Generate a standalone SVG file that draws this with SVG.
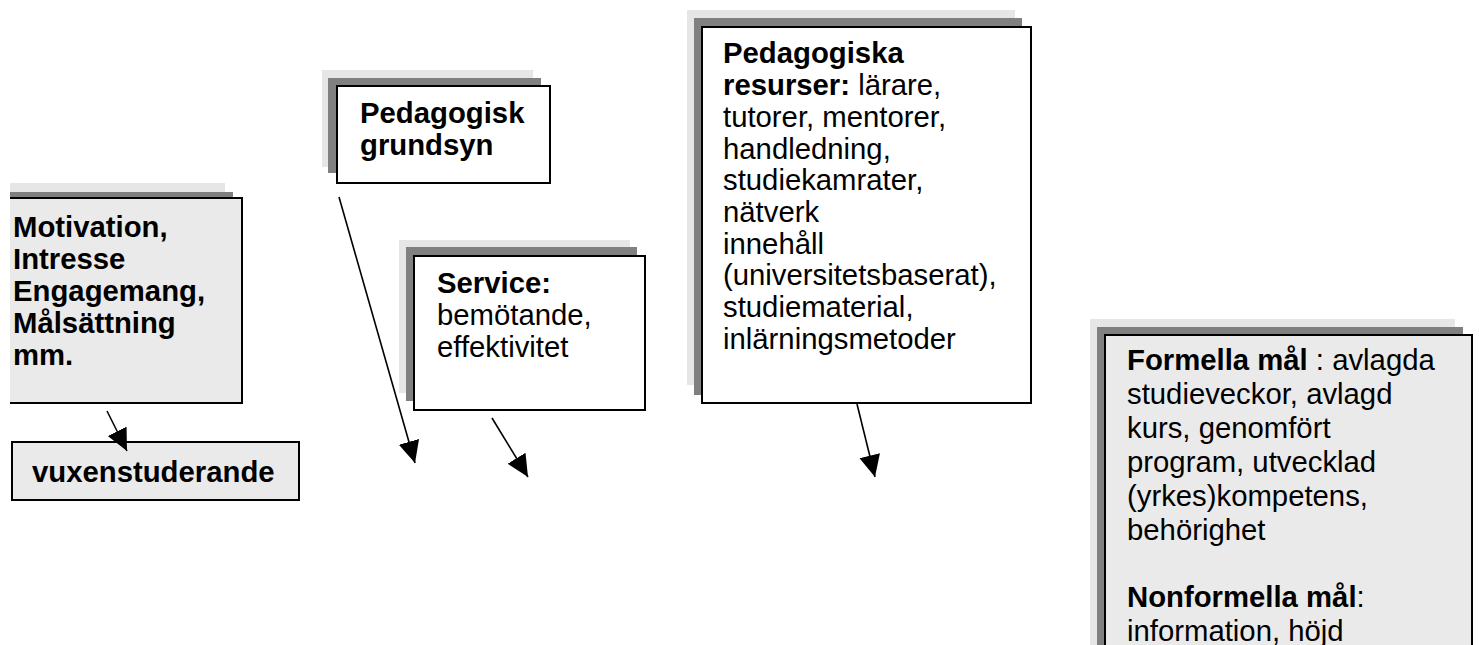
<svg xmlns="http://www.w3.org/2000/svg" width="1479" height="645" viewBox="0 0 1479 645">
  <style>
    text { font-family: "Liberation Sans", Arial, sans-serif; font-size: 29.3px; fill: #000; }
    .b { font-weight: bold; }
    .sh1 { fill: #e6e6e6; }
    .sh2 { fill: #808080; }
    .box { stroke: #000; stroke-width: 2; }
    .grey { fill: #eaeaea; }
    .white { fill: #fff; }
    .conn { stroke: #000; stroke-width: 1.6; fill: none; marker-end: url(#ah); }
  </style>
  <defs>
    <marker id="ah" markerUnits="userSpaceOnUse" markerWidth="24" markerHeight="22" refX="22" refY="10.5" orient="auto" viewBox="0 0 24 22">
      <path d="M0,0 L22,10.5 L0,21 Z" fill="#000"/>
    </marker>
  </defs>
  <rect width="1479" height="645" fill="#fff"/>

  <!-- Motivation (left edge cut off at the page margin) -->
  <g id="motivation">
    <rect class="sh1" x="10" y="183" width="215" height="60"/>
    <rect class="sh2" x="10" y="192" width="223" height="60"/>
    <rect class="grey" x="10" y="198" width="232" height="205"/>
    <path d="M10,198 H242 V403 H10" fill="none" stroke="#000" stroke-width="2"/>
    <text class="b" x="13" y="237">Motivation,</text>
    <text class="b" x="13" y="269">Intresse</text>
    <text class="b" x="13" y="301">Engagemang,</text>
    <text class="b" x="13" y="333">Målsättning</text>
    <text class="b" x="13" y="365">mm.</text>
  </g>

  <!-- vuxenstuderande -->
  <g id="vuxenstuderande">
    <rect class="box grey" x="12" y="442" width="287" height="58"/>
    <text class="b" x="32" y="482">vuxenstuderande</text>
  </g>

  <!-- Pedagogisk grundsyn -->
  <g id="grundsyn">
    <rect class="sh1" x="322" y="70" width="211" height="97"/>
    <rect class="sh2" x="328" y="78" width="213" height="95"/>
    <rect class="box white" x="337" y="86" width="213" height="97"/>
    <text class="b" x="360" y="123">Pedagogisk</text>
    <text class="b" x="360" y="155">grundsyn</text>
  </g>

  <!-- Service -->
  <g id="service">
    <rect class="sh1" x="399" y="240" width="231" height="153"/>
    <rect class="sh2" x="406" y="247" width="231" height="154"/>
    <rect class="box white" x="414" y="256" width="231" height="154"/>
    <text class="b" x="437" y="293">Service:</text>
    <text x="437" y="325">bemötande,</text>
    <text x="437" y="357">effektivitet</text>
  </g>

  <!-- Pedagogiska resurser -->
  <g id="resurser">
    <rect class="sh1" x="687" y="10" width="328" height="375"/>
    <rect class="sh2" x="694" y="18" width="328" height="377"/>
    <rect class="box white" x="702" y="27" width="329" height="376"/>
    <text class="b" x="723" y="63">Pedagogiska</text>
    <text x="723" y="95"><tspan class="b">resurser:</tspan> lärare,</text>
    <text x="723" y="127">tutorer, mentorer,</text>
    <text x="723" y="158.5">handledning,</text>
    <text x="723" y="190">studiekamrater,</text>
    <text x="723" y="222">nätverk</text>
    <text x="723" y="254">innehåll</text>
    <text x="723" y="285">(universitetsbaserat),</text>
    <text x="723" y="317">studiematerial,</text>
    <text x="723" y="349">inlärningsmetoder</text>
  </g>

  <!-- Formella / Nonformella mål (runs past the bottom edge) -->
  <g id="mal">
    <rect class="sh1" x="1090" y="319" width="365" height="340"/>
    <rect class="sh2" x="1097" y="327" width="366" height="340"/>
    <rect class="box grey" x="1105" y="335" width="367" height="330"/>
    <text x="1127" y="370"><tspan class="b">Formella mål</tspan> : avlagda</text>
    <text x="1127" y="404">studieveckor, avlagd</text>
    <text x="1127" y="438">kurs, genomfört</text>
    <text x="1127" y="472">program, utvecklad</text>
    <text x="1127" y="506">(yrkes)kompetens,</text>
    <text x="1127" y="540">behörighet</text>
    <text x="1127" y="607"><tspan class="b">Nonformella mål</tspan>:</text>
    <text x="1127" y="641">information, höjd</text>
  </g>

  <!-- connectors -->
  <g id="connectors">
    <line class="conn" x1="107" y1="411" x2="127" y2="451"/>
    <line class="conn" x1="339" y1="197" x2="415" y2="463"/>
    <line class="conn" x1="492" y1="418" x2="528" y2="477"/>
    <line class="conn" x1="857" y1="404" x2="875" y2="477"/>
  </g>
</svg>
